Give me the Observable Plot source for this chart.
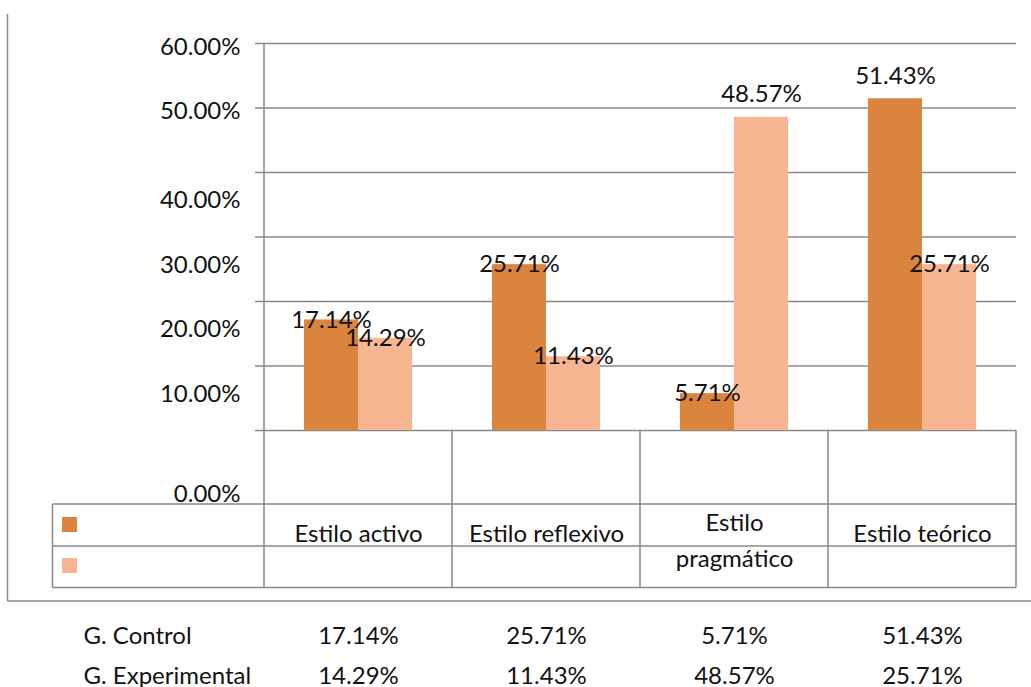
<!DOCTYPE html>
<html><head><meta charset="utf-8">
<script src="https://cdn.jsdelivr.net/npm/d3@7"></script>
<script src="https://cdn.jsdelivr.net/npm/@observablehq/plot@0.6"></script>
<style>html,body{margin:0;padding:0;background:#fff;overflow:hidden}</style>
</head><body><div id="chart"></div>
<script>
// ---- data ----
const categories = ["Estilo activo", "Estilo reflexivo", "Estilo pragmático", "Estilo teórico"];
const seriesNames = ["G. Control", "G. Experimental"];
const control = [17.14, 25.71, 5.71, 51.43];
const experimental = [14.29, 11.43, 48.57, 25.71];
const yTicks = [0, 10, 20, 30, 40, 50, 60];
const yTickLabels = ["0.00%", "10.00%", "20.00%", "30.00%", "40.00%", "50.00%", "60.00%"];

// ---- styles ----
const ORANGE = "#DB843D", PEACH = "#F8B592", GRID = "#898989", INK = "#111";
const fmt = v => v.toFixed(2) + "%";
const wrap = s => s.length > 16 ? s.replace(" ", "\n") : s;

const rowsC = categories.map((c, i) => ({cat: c, series: seriesNames[0], value: control[i]}));
const rowsE = categories.map((c, i) => ({cat: c, series: seriesNames[1], value: experimental[i]}));
const tickRows = yTicks.map((v, i) => ({v, label: yTickLabels[i]}));

function barLabels(rows, dx) {
  return [
    Plot.text(rows.filter(d => d.value <= 40), {x: "cat", y: "value", text: d => fmt(d.value), dx, dy: 0, fill: INK}),
    Plot.text(rows.filter(d => d.value > 40), {x: "cat", y: "value", text: d => fmt(d.value), dx, dy: -22.5, fill: INK})
  ];
}
function tickLabels(filter, dy) {
  return Plot.text(tickRows.filter(filter), {y: "v", text: "label", frameAnchor: "left", textAnchor: "end", dx: -24, dy, fill: INK});
}
function valueRow(values, dy) {
  return Plot.text(values.map((v, i) => ({cat: categories[i], v})), {x: "cat", text: d => fmt(d.v), frameAnchor: "bottom", lineAnchor: "middle", dy, fill: INK});
}

const svg = Plot.plot({
  width: 1031, height: 687,
  marginLeft: 264, marginRight: 15, marginTop: 43, marginBottom: 257,
  style: {fontFamily: "Lato, 'Open Sans', sans-serif", fontSize: "24px", background: "#fff", overflow: "visible"},
  x: {type: "band", domain: categories, paddingInner: 0, paddingOuter: 0, axis: null},
  y: {domain: [0, 60], axis: null},
  marks: [
    Plot.ruleY(yTicks, {stroke: GRID, strokeWidth: 1.5, insetLeft: -9}),
    Plot.barY(rowsC, {x: "cat", y: "value", fill: ORANGE, insetLeft: 40, insetRight: 94}),
    Plot.barY(rowsE, {x: "cat", y: "value", fill: PEACH, insetLeft: 94, insetRight: 40}),
    ...barLabels(rowsC, -27),
    ...barLabels(rowsE, 27),
    tickLabels(d => d.v >= 50, 3.5),
    tickLabels(d => d.v > 0 && d.v < 50, 28),
    tickLabels(d => d.v === 0, 63.5),
    // category labels inside the data table
    Plot.text(categories.filter(c => wrap(c) === c), {x: d => d, text: d => d, frameAnchor: "bottom", lineAnchor: "middle", dy: 104, fill: INK}),
    Plot.text(categories.filter(c => wrap(c) !== c), {x: d => d, text: d => wrap(d), frameAnchor: "bottom", lineAnchor: "middle", dy: 107, lineHeight: 1.52, fill: INK}),
    // values below the chart
    valueRow(control, 206),
    valueRow(experimental, 245.5),
    Plot.text([seriesNames[0]], {text: d => d, frameAnchor: "bottom-left", lineAnchor: "middle", textAnchor: "start", dx: -181, dy: 206, fill: INK}),
    Plot.text([seriesNames[1]], {text: d => d, frameAnchor: "bottom-left", lineAnchor: "middle", textAnchor: "start", dx: -181, dy: 245.5, fill: INK})
  ]
});

// ---- decorations: chart border, axis line, data-table grid, legend keys ----
const g = d3.select(svg).append("g").attr("stroke", GRID).attr("stroke-width", 1.5).attr("fill", "none");
const xs = svg.scale("x");
const xLeft = xs.range[0], xRight = xs.range[1];
const y0 = svg.scale("y").apply(0);
const line = (x1, y1, x2, y2) => g.append("line").attr("x1", x1).attr("y1", y1).attr("x2", x2).attr("y2", y2);
line(7.5, 14, 7.5, 601);
line(7.5, 601, 1031, 601);
line(xLeft, 43, xLeft, 587.5);
categories.slice(1).forEach(c => { const x = xs.apply(c); line(x, y0, x, 587.5); });
line(xRight, y0, xRight, 587.5);
line(52.5, 504, 52.5, 587.5);
[504, 546, 587.5].forEach(y => line(52.5, y, xRight, y));
const lg = d3.select(svg).append("g");
lg.append("rect").attr("x", 62).attr("y", 517).attr("width", 15).attr("height", 15).attr("fill", ORANGE);
lg.append("rect").attr("x", 62).attr("y", 558).attr("width", 15).attr("height", 15).attr("fill", PEACH);

document.getElementById("chart").appendChild(svg);
</script>
</body></html>
